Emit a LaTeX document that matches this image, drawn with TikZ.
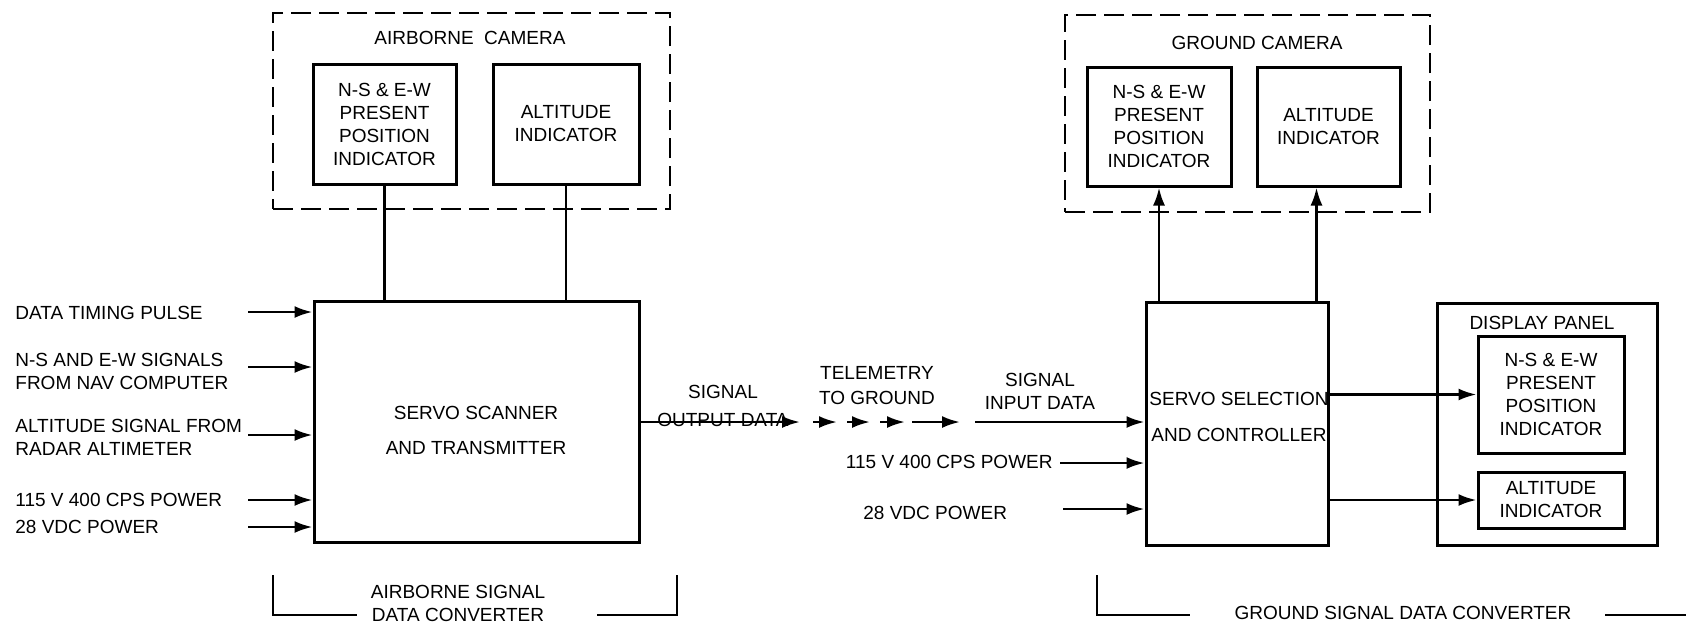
\documentclass[tikz,border=0pt]{standalone}
\usepackage{fontspec}
\setmainfont{Liberation Sans}
\usetikzlibrary{arrows.meta,positioning,calc}

\begin{document}
\begin{tikzpicture}[x=0.5pt,y=-0.5pt,
  font=\fontsize{9.5}{11.5}\selectfont,
  box/.style={draw,line width=1.5pt,inner sep=0pt,align=center},
  cambox/.style={draw,line width=1.4pt,dash pattern=on 10pt off 4pt,inner sep=0pt},
  wire/.style={line width=1.3pt},
  arr/.style={line width=1.3pt,-{Latex[length=9pt,width=6pt]}},
  lbl/.style={align=left,anchor=west,inner sep=0pt},
  ctr/.style={align=center,inner sep=0pt}]
  \useasboundingbox (0,0) rectangle (1686,628);

  % 機上カメラ
  \node[cambox,minimum width=198.5pt,minimum height=98pt] (acam) at (471.5,111) {};
  \node[ctr] (acamtitle) at (470,38) {AIRBORNE\ \ CAMERA};
  \node[box,minimum width=71.5pt,minimum height=60pt] (ansew) at (384.5,124)
    {N-S \& E-W\\PRESENT\\POSITION\\INDICATOR};
  \node[box,minimum width=73pt,minimum height=60pt] (aalt) at (566,124)
    {ALTITUDE\\INDICATOR};

  % 機上側の変換器
  \node[box,minimum width=162.5pt,minimum height=120.5pt] (scanner) at (476.5,421.5) {};
  \node[ctr] (scannertxt) at (476,430.5) {SERVO SCANNER\\[6pt]AND TRANSMITTER};
  \draw[wire] (ansew.south) -- (ansew.south |- scanner.north);
  \draw[wire] (aalt.south) -- (aalt.south |- scanner.north);

  % 入力信号（左側）
  \node[lbl] (dtp) at (15,313) {DATA TIMING PULSE};
  \node[lbl] (nav) at (15,371) {N-S AND E-W SIGNALS\\FROM NAV COMPUTER};
  \node[lbl] (radar) at (15,437.5) {ALTITUDE SIGNAL FROM\\RADAR ALTIMETER};
  \node[lbl] (acpw) at (15,500) {115 V 400 CPS POWER};
  \node[lbl] (dcpw) at (15,527) {28 VDC POWER};
  \foreach \y/\name in {312/dtp,367/nav,435/radar,500/acpw,527/dcpw}{
    \coordinate (in-\name) at (248,\y);
    \draw[arr] (in-\name) -- (in-\name -| scanner.west);
  }

  % 地上側の変換器
  \node[box,minimum width=91pt,minimum height=121.5pt] (selector) at (1237,423.5) {};
  \node[ctr] (selectortxt) at (1239,417) {SERVO SELECTION\\[6.5pt]AND CONTROLLER};

  % テレメトリ（機上→地上）
  \node[ctr] (outlbl) at (723,406) {SIGNAL\\[2.5pt]OUTPUT DATA};
  \node[ctr] (tmlbl) at (877,385.5) {TELEMETRY\\[1pt]TO GROUND};
  \node[ctr] (inlbl) at (1040,391) {SIGNAL\\INPUT DATA};
  \coordinate (tm0) at (800,422);
  \draw[arr] (tm0 -| scanner.east) -- (tm0);
  \foreach \a/\b in {813/837,847/870,880/905,912/960}
    \draw[arr] (\a,422) -- (\b,422);
  \coordinate (tm1) at (975,422);
  \draw[arr] (tm1) -- (tm1 -| selector.west);

  % 地上側の電源
  \node[lbl,anchor=east] (gacpw) at (1053,462) {115 V 400 CPS POWER};
  \node[lbl] (gdcpw) at (863,513) {28 VDC POWER};
  \coordinate (gin-ac) at (1060,463);
  \coordinate (gin-dc) at (1063,509);
  \draw[arr] (gin-ac) -- (gin-ac -| selector.west);
  \draw[arr] (gin-dc) -- (gin-dc -| selector.west);

  % 地上カメラ
  \node[cambox,minimum width=182.5pt,minimum height=98.5pt] (gcam) at (1247.5,113.5) {};
  \node[ctr] (gcamtitle) at (1257,43) {GROUND CAMERA};
  \node[box,minimum width=72pt,minimum height=59.5pt] (gnsew) at (1159,126.5)
    {N-S \& E-W\\PRESENT\\POSITION\\INDICATOR};
  \node[box,minimum width=71.5pt,minimum height=59.5pt] (galt) at (1328.5,126.5)
    {ALTITUDE\\INDICATOR};
  \draw[arr] (gnsew.south |- selector.north) -- (gnsew.south);
  \coordinate (gup) at ([xshift=-6.5pt]selector.north east);
  \draw[arr] (gup) -- (gup |- galt.south);

  % 表示パネル
  \node[box,minimum width=110pt,minimum height=121pt] (panel) at (1547,424) {};
  \node[ctr] (paneltitle) at (1542,323) {DISPLAY PANEL};
  \node[box,minimum width=73pt,minimum height=58.5pt] (pnsew) at (1551,394.5)
    {N-S \& E-W\\PRESENT\\POSITION\\INDICATOR};
  \node[box,minimum width=73pt,minimum height=28pt] (palt) at (1551,500)
    {ALTITUDE\\INDICATOR};
  \draw[arr] (pnsew.west -| selector.east) -- (pnsew.west);
  \draw[arr] (palt.west -| selector.east) -- (palt.west);

  % 下部の括弧
  \draw[wire] (273,575) -- (273,615) -- (357,615);
  \draw[wire] (597,615) -- (677,615) -- (677,575);
  \node[ctr] (abrlbl) at (458,603) {AIRBORNE SIGNAL\\DATA CONVERTER};
  \draw[wire] (1097,575) -- (1097,615) -- (1190,615);
  \draw[wire] (1605,615) -- (1686,615);
  \node[ctr] (gbrlbl) at (1403,613) {GROUND SIGNAL DATA CONVERTER};
\end{tikzpicture}
\end{document}
